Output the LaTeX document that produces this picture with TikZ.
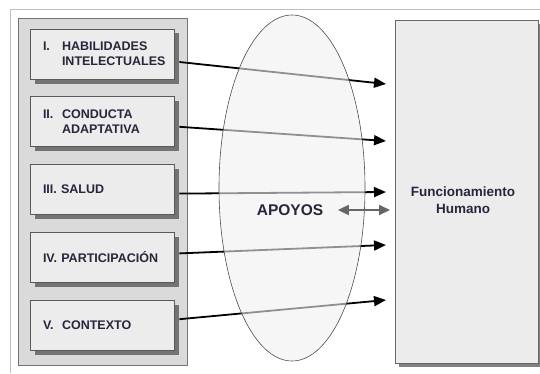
\documentclass[tikz,border=0pt]{standalone}
\usepackage{fontspec}
\setmainfont{Liberation Sans}
\usetikzlibrary{positioning,shadows,arrows.meta}
\definecolor{txtdark}{RGB}{38,38,60}
\definecolor{panelgray}{RGB}{218,218,218}
\definecolor{boxgray}{RGB}{236,236,236}
\newcommand{\numlbl}[2]{\makebox[19pt][l]{#1}#2}
\newcommand{\indentlbl}{\makebox[19pt]{}}
\begin{document}
\begin{tikzpicture}[x=1pt, y=1pt, node distance={17pt}, thick,
	main/.style = {draw=black!65, fill=boxgray, line width=0.8pt, minimum height=50pt,
		text width=118pt, inner xsep=13pt, align=left, font=\bfseries\fontsize{12.5}{15}\selectfont,
		text=txtdark, drop shadow={shadow xshift=4.5pt, shadow yshift=-4.5pt, fill=black!55, opacity=1}},
	flow/.style = {line width=1.8pt, -{Triangle[length=12pt,width=10pt]}}]
	\useasboundingbox (0,0) rectangle (540,373);
	% frame
	\draw[black!25, line width=0.8pt] (10,0) -- (10,364) -- (540,364);
	% left panel
	\draw[fill=panelgray, draw=black!55, line width=1pt] (18,8) rectangle (187,354);
	\node[main] (1) at (102,319) {\numlbl{I.}{HABILIDADES}\\\indentlbl\mbox{INTELECTUALES}};
	\node[main] (2) [below=of 1] {\numlbl{II.}{CONDUCTA}\\\indentlbl\mbox{ADAPTATIVA}};
	\node[main] (3) [below=of 2] {III. SALUD};
	\node[main] (4) [below=of 3] {IV. PARTICIPACIÓN};
	\node[main] (5) [below=of 4] {\numlbl{V.}{CONTEXTO}};
	% right box
	\node[draw=black!60, fill=boxgray, line width=0.8pt, minimum width=143pt, minimum height=343pt,
		drop shadow={shadow xshift=4pt, shadow yshift=-4pt, fill=black!50, opacity=1}] (6) at (466.5,181.5) {};
	\node[font=\bfseries\fontsize{13.5}{17}\selectfont, text=txtdark, align=center] (7) at (463,173) {Funcionamiento\\Humano};
	\coordinate (t1) at (386,289);
	\coordinate (t2) at (386,232);
	\coordinate (t3) at (386,181);
	\coordinate (t4) at (386,128);
	\coordinate (t5) at (386,73);
	\path[flow]
		([shift={(5pt,-8pt)}]1.east) edge (t1)
		([shift={(5pt,-5pt)}]2.east) edge (t2)
		([shift={(5pt,-4pt)}]3.east) edge (t3)
		([shift={(5pt,4pt)}]4.east) edge (t4)
		([shift={(5pt,6pt)}]5.east) edge (t5);
	% apoyos
	\fill[black!6, opacity=0.6] (292,185) ellipse [x radius=73, y radius=173];
	\draw[black!70, line width=0.6pt] (292,185) ellipse [x radius=73, y radius=173];
	\node[font=\bfseries\fontsize{15.5}{17}\selectfont, text=txtdark] (8) at (290,163) {APOYOS};
	\coordinate (s) at (390,163);
	\draw[black!60, line width=2pt, {Triangle[length=11pt,width=10pt]}-{Triangle[length=11pt,width=10pt]}] ([xshift=11pt]8.east) -- (s);
\end{tikzpicture}
\end{document}
